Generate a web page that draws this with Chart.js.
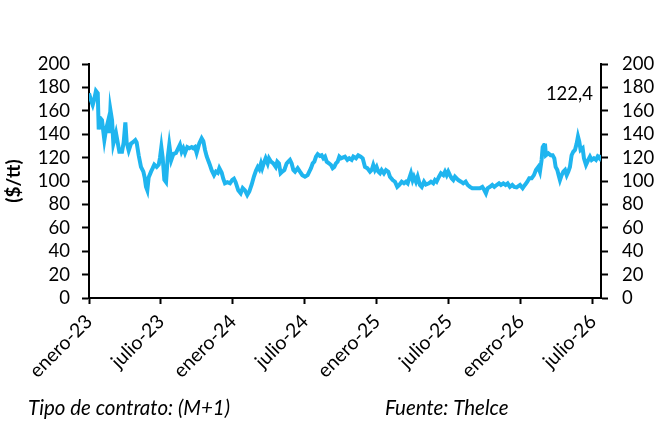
<!DOCTYPE html>
<html><head><meta charset="utf-8">
<script src="https://cdn.jsdelivr.net/npm/chart.js@4.4.1/dist/chart.umd.min.js"></script>
<style>html,body{margin:0;padding:0;background:#fff}#c{display:block}</style>
</head><body>
<canvas id="c" width="655" height="426"></canvas>
<script>
// months since enero-23
const months = [0.00,0.17,0.31,0.42,0.58,0.73,0.81,0.92,1.08,1.28,1.42,1.56,1.69,1.78,1.92,2.03,2.25,2.39,2.53,2.75,2.89,3.03,3.14,3.31,3.50,3.64,3.86,3.97,4.14,4.33,4.53,4.64,4.75,4.86,4.97,5.17,5.31,5.44,5.64,5.81,5.92,6.03,6.14,6.28,6.42,6.56,6.69,6.86,7.03,7.25,7.44,7.58,7.72,7.86,8.00,8.19,8.36,8.56,8.69,8.83,8.97,9.19,9.39,9.53,9.67,9.81,10.03,10.23,10.42,10.58,10.73,10.86,11.06,11.19,11.33,11.53,11.75,11.94,12.08,12.22,12.44,12.64,12.81,13.00,13.19,13.36,13.56,13.75,13.92,14.06,14.19,14.33,14.44,14.61,14.72,14.89,15.00,15.17,15.36,15.56,15.69,15.83,15.97,16.11,16.28,16.47,16.61,16.75,16.89,17.03,17.17,17.39,17.58,17.78,18.00,18.22,18.36,18.50,18.64,18.78,18.92,19.06,19.25,19.39,19.53,19.67,19.81,20.00,20.17,20.31,20.44,20.58,20.72,20.86,21.00,21.14,21.33,21.53,21.69,21.89,22.03,22.25,22.44,22.64,22.81,23.00,23.19,23.42,23.56,23.69,23.83,23.97,24.11,24.25,24.39,24.58,24.75,24.94,25.08,25.31,25.50,25.69,25.86,26.06,26.25,26.42,26.56,26.69,26.83,26.97,27.08,27.25,27.39,27.58,27.73,27.92,28.08,28.33,28.50,28.69,28.83,28.97,29.17,29.33,29.53,29.67,29.81,29.94,30.08,30.22,30.36,30.50,30.64,30.78,31.00,31.19,31.39,31.56,31.75,31.94,32.17,32.39,32.58,32.78,32.94,33.08,33.22,33.42,33.61,33.78,33.97,34.17,34.33,34.53,34.72,34.89,35.08,35.28,35.44,35.64,35.92,36.14,36.33,36.53,36.69,36.89,37.08,37.25,37.44,37.58,37.72,37.81,37.92,38.00,38.08,38.28,38.47,38.64,38.78,38.89,39.03,39.14,39.25,39.39,39.53,39.67,39.81,39.94,40.08,40.22,40.36,40.50,40.64,40.75,40.86,40.97,41.14,41.25,41.42,41.61,41.75,41.89,42.08,42.25,42.39,42.53,42.62];
const prices = [175,169,165,169,177,175,144,154,152,135,144,150,141,161,152,132,141,133,125,125,133,150,133,126,132,133,135,133,122,112,108,103,95,92,103,108,111,114,112,114,120,129,120,101,99,120,131,118,123,124,128,131,125,128,124,129,128,129,128,129,124,132,136.5,134,126.5,121,115,109,105,108,107,111,107,102,98,99,98,101,102,99,92,89.5,94,92,88,91,97,104,109,112,110,115,111,116.5,119.4,115,119.4,116.5,115,112,116.5,115,106.6,108,109.4,115,116.5,118,115,109.4,108,111,108,105,103.7,105,108,111,115,116.5,120.8,123,121.4,122,119.4,120.8,116.5,115,113.7,111,112,115,116.5,120.8,119.4,120,120.8,118,119.4,118,120.8,119.4,122,120.8,119.4,112,111,108,109.4,113.7,109.4,112,108,106.6,109.4,106.6,109.4,108,103.7,100.8,99.4,95,96.6,99.4,98,99.4,98,102.3,106.6,100.8,103.7,99.4,103.7,96.6,95,99.4,97,98,99.4,98,100.8,99.4,103.7,106.6,105,108,105,108,105,102.3,100.8,103.7,102.3,100.8,99.4,98,99.4,96.6,95,93.8,93.8,93.8,93.8,95,92.3,89.5,93.8,95,96.6,95,96.6,98,96.6,98,96.6,98,95,96.6,95,94.6,96.6,93.8,96.6,99.4,102.3,102.3,105,109.4,112,108,118,129,130.8,132,122,123.7,122,122,119.4,112,109.4,105,100.8,105,108,109.4,105,108,112,122,125,126.5,132,138,133.6,126.5,128,119.4,113.7,118,120.8,118,119.4,118,120.8,119.4,122.4];
const xLabels = ['enero-23','julio-23','enero-24','julio-24','enero-25','julio-25','enero-26','julio-26'];
const yTicks = [0,20,40,60,80,100,120,140,160,180,200];
const lastLabel = '122,4';
const yTitle = '($/tt)';
const footLeft = 'Tipo de contrato: (M+1)';
const footRight = 'Fuente: Thelce';

const FONT = 'Lato, "Open Sans", sans-serif';
const yFont = {family: FONT, size: 18.5};
const xFont = {family: FONT, size: 19.5};

const textPlugin = {
  id: 'texts',
  afterDraw(chart) {
    const ctx = chart.ctx;
    ctx.save();
    ctx.fillStyle = '#000';
    ctx.font = 'bold 19px ' + FONT;
    ctx.translate(14, 181);
    ctx.rotate(-Math.PI / 2);
    ctx.textAlign = 'center';
    ctx.textBaseline = 'middle';
    ctx.fillText(yTitle, 0, 0);
    ctx.restore();
    ctx.save();
    ctx.fillStyle = '#000';
    ctx.font = '18.5px ' + FONT;
    ctx.textAlign = 'right';
    ctx.textBaseline = 'middle';
    ctx.fillText(lastLabel, 593, 94);
    ctx.font = 'italic 20.5px ' + FONT;
    ctx.textAlign = 'left';
    ctx.fillText(footLeft, 28, 408);
    ctx.fillText(footRight, 385, 408);
    ctx.restore();
  }
};

const yCommon = {
  min: 0, max: 200,
  afterBuildTicks: s => { s.ticks = yTicks.map(v => ({value: v})); },
  ticks: {font: yFont, color: '#000', padding: 12, autoSkip: false},
  grid: {drawOnChartArea: false, drawTicks: true, tickLength: 7, tickColor: '#000', tickWidth: 2},
  border: {color: '#000', width: 2}
};

new Chart(document.getElementById('c'), {
  type: 'line',
  data: {
    datasets: [{
      data: months.map((m, i) => ({x: m, y: prices[i]})),
      borderColor: '#1FB5EF',
      borderWidth: 4,
      pointRadius: 0,
      tension: 0,
      fill: false
    }]
  },
  options: {
    responsive: false,
    animation: false,
    devicePixelRatio: 1,
    layout: {padding: {top: 64, left: 0, right: 0, bottom: 0}},
    plugins: {legend: {display: false}, tooltip: {enabled: false}},
    scales: {
      x: {
        type: 'linear', min: 0, max: 42.67,
        afterBuildTicks: s => { s.ticks = xLabels.map((_, i) => ({value: i * 6})); },
        afterFit: s => { s.height = 128; },
        ticks: {
          font: xFont, color: '#000', autoSkip: false,
          maxRotation: 45, minRotation: 45, padding: 6,
          callback: v => xLabels[Math.round(v / 6)]
        },
        grid: {drawOnChartArea: false, drawTicks: true, tickLength: 6, tickColor: '#000', tickWidth: 2},
        border: {color: '#000', width: 2}
      },
      y: Object.assign({}, yCommon, {position: 'left', afterFit: s => { s.width = 89; }}),
      y2: Object.assign({}, yCommon, {position: 'right', afterFit: s => { s.width = 54; }, ticks: {font: yFont, color: '#000', padding: 14, autoSkip: false}})
    }
  },
  plugins: [textPlugin]
});
</script>
</body></html>
